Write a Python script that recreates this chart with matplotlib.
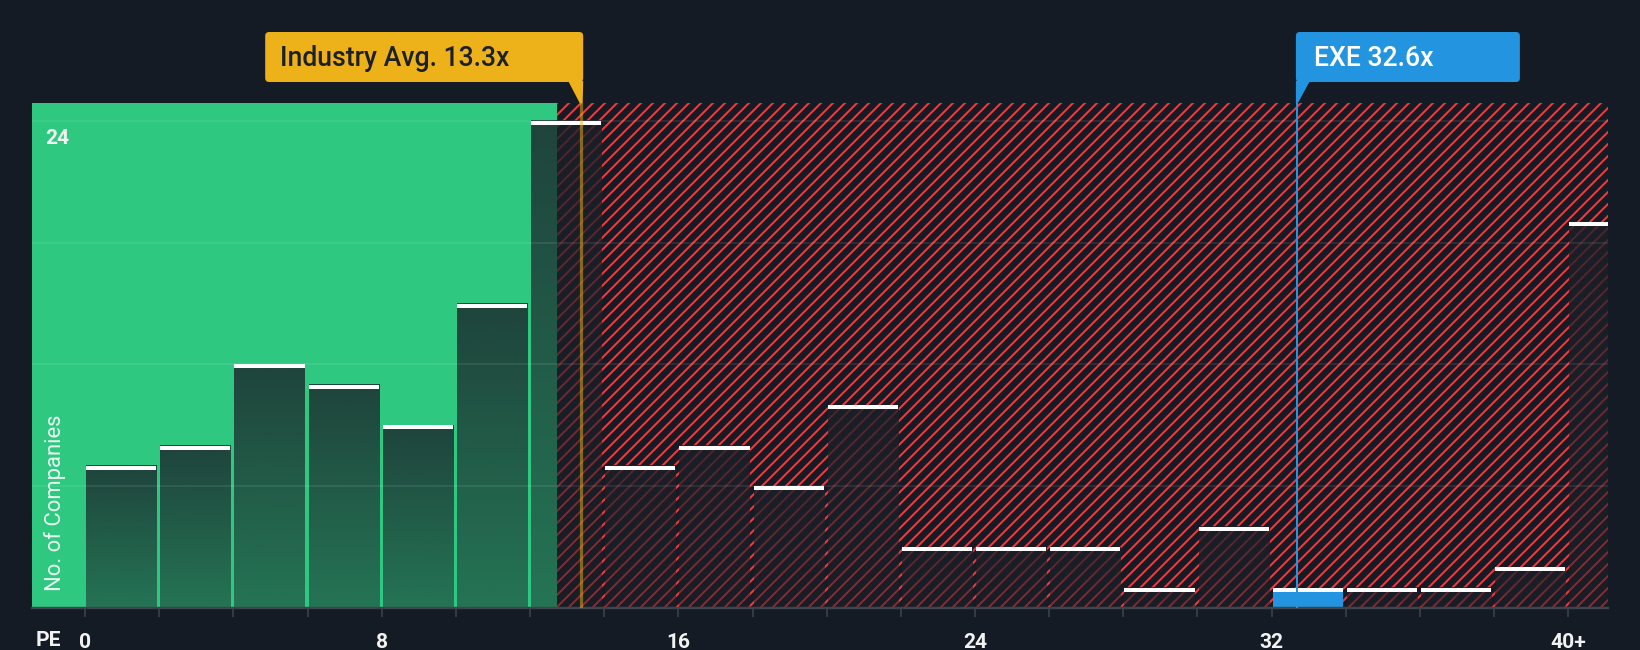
import numpy as np
import matplotlib
matplotlib.use("Agg")
import matplotlib.pyplot as plt
from matplotlib.patches import Rectangle, FancyBboxPatch, Polygon

# ---------------- data ----------------
bin_starts = [0, 2, 4, 6, 8, 10, 12, 14, 16, 18, 20, 22, 24, 26, 28, 30, 32, 34, 36, 38, 40]
counts = [7, 8, 12, 11, 9, 15, 24, 7, 8, 6, 10, 3, 3, 3, 1, 4, 1, 1, 1, 2, 19]
tick_values = [0, 8, 16, 24, 32, 40]
tick_labels = ["0", "8", "16", "24", "32", "40+"]
industry_avg = 13.3
company_name = "EXE"
company_pe = 32.6
fair_limit = 12.74
bin_width = 2

# ---------------- style ----------------
BG = "#151b24"
GREEN = "#2ec880"
RED = "#e63e42"
GOLD = "#edb21a"
BLUE = "#2394df"
DPI = 144
W, H = 1640, 650

plt.rcParams["font.family"] = ["Roboto", "DejaVu Sans"]
plt.rcParams["hatch.linewidth"] = 1.0

fig = plt.figure(figsize=(W / DPI, H / DPI), dpi=DPI, facecolor=BG)
ax = fig.add_axes([32 / W, 42 / H, 1576 / W, 505 / H])
ax.set_facecolor(BG)
xmin, xmax = -1.43, 41.07
ytop = 24.88
ax.set_xlim(xmin, xmax)
ax.set_ylim(0, ytop)

# regions
ax.axvspan(xmin, fair_limit, facecolor=GREEN, lw=0, zorder=0)
ax.axvspan(fair_limit, xmax, facecolor=BG, edgecolor=RED, hatch="////", lw=0, zorder=0)

# grid
for g in [6, 12, 18, 24]:
    ax.axhline(g, color="white", alpha=0.10, lw=0.8, zorder=3)

# per-bar vertical gradient
overlay_rgb = matplotlib.colors.to_rgb("#1b2029")
grad = np.zeros((256, 1, 4))
grad[..., 0], grad[..., 1], grad[..., 2] = overlay_rgb
grad[:, 0, 3] = np.linspace(0.50, 0.79, 256)

starts = np.array(bin_starts, dtype=float)
vals = np.array(counts, dtype=float)
left = starts + 0.03
bw = 1.89
comp_idx = int((company_pe - bin_starts[0]) // bin_width)

for i, (x0, h) in enumerate(zip(left, vals)):
    if i == comp_idx:
        ax.add_patch(Rectangle((x0, 0), bw, h, facecolor=BLUE, lw=0, zorder=2))
        continue
    ax.imshow(grad, extent=(x0, x0 + bw, 0, h), origin="lower", aspect="auto",
              interpolation="bilinear", zorder=2)

ax.set_xlim(xmin, xmax)
ax.set_ylim(0, ytop)

cap_h = 0.1  # half thickness of white top line in data units
ax.hlines(vals - cap_h, left, left + bw, colors="white", lw=2.0, zorder=4, capstyle="butt")

# industry line
ax.axvline(industry_avg + 0.08, color=GOLD, alpha=0.5, lw=1.6, zorder=5)

# axes styling
for s in ["top", "right", "left"]:
    ax.spines[s].set_visible(False)
ax.spines["bottom"].set_color("#3e434c")
ax.spines["bottom"].set_linewidth(1.2)
ax.set_yticks([])
ax.set_xticks(tick_values)
ax.set_xticklabels(tick_labels, fontsize=10.5, fontweight="bold", color="#f2f2f2")
ax.set_xticks(np.arange(0, 41, 2), minor=True)
ax.tick_params(axis="x", which="both", length=4.5, width=0.8, color="#3e434c", pad=8)

# overlay in pixel coordinates
ov = fig.add_axes([0, 0, 1, 1], zorder=10)
ov.set_xlim(0, W)
ov.set_ylim(H, 0)
ov.axis("off")
ov.patch.set_alpha(0)

def px(v):
    return ax.transData.transform((v, 0))[0]

def py(v):
    return H - ax.transData.transform((0, v))[1]

plot_top = py(ytop)
box_top, box_bot = 32, 82

# industry box
xi = px(industry_avg + 0.08)
ov.add_patch(FancyBboxPatch((xi - 316, box_top), 318, box_bot - box_top,
                            boxstyle="round,pad=0,rounding_size=4", facecolor=GOLD, lw=0))
ov.add_patch(Polygon([(xi - 13, box_bot - 1), (xi + 2, box_bot - 1), (xi + 1.5, plot_top), (xi - 1.5, plot_top)],
                     closed=True, facecolor=GOLD, lw=0))
ov.text(xi - 301, 66.5, f"Industry Avg. {industry_avg:.1f}x", fontsize=13.3, color="#1c2029",
        ha="left", va="baseline", fontweight=500)

# company box
xc = px(company_pe + 0.08)
ov.add_patch(FancyBboxPatch((xc - 1, box_top), 224, box_bot - box_top,
                            boxstyle="round,pad=0,rounding_size=4", facecolor=BLUE, lw=0))
ov.add_patch(Polygon([(xc - 1, box_bot - 1), (xc + 13, box_bot - 1), (xc + 1, plot_top), (xc - 1, plot_top)],
                     closed=True, facecolor=BLUE, lw=0))
ov.plot([xc, xc], [box_bot, py(0)], color=BLUE, lw=1.0, solid_capstyle="butt")
ov.text(xc + 17, 66, f"{company_name} {company_pe:.1f}x", fontsize=13.3, color="white",
        ha="left", va="baseline", fontweight=500)

# labels
ov.text(45, py(24) + 18, "24", fontsize=10.5, fontweight="bold", color="#f2f2f2",
        ha="left", va="center")
ov.text(55, 591, "No. of Companies", rotation=90, fontsize=11, color="#eaf7f0",
        ha="center", va="bottom")
ov.text(48, 641, "PE", fontsize=10.5, fontweight="bold", color="#f2f2f2",
        ha="center", va="center")

fig.savefig("out.png", dpi=DPI, facecolor=BG)
